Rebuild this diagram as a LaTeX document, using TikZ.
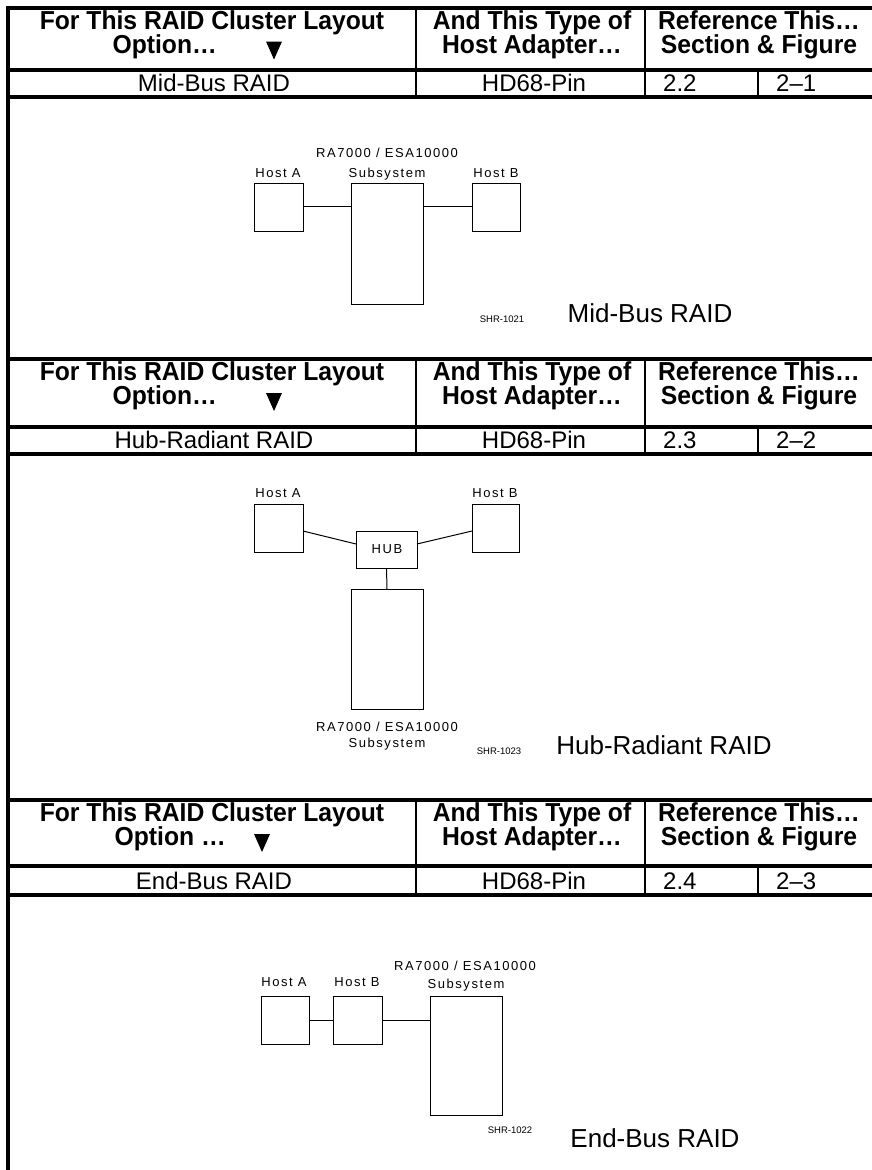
\documentclass[tikz,border=0pt]{standalone}
\usepackage{fontspec}
\setmainfont{Liberation Sans}
\newfontfamily\diagfont[LetterSpace=12]{Liberation Sans}
\newfontfamily\hdrfont[FakeStretch=0.95]{Liberation Sans}
\usetikzlibrary{calc}
\newcommand\raidsect[8]{%
  \draw[thin rule] (416,#2) -- (416,#4);
  \draw[thin rule] (645,#2) -- (645,#4);
  \draw[thin rule] (758,#3) -- (758,#4);
  \draw[thick rule] (8,#2) -- (872,#2);
  \draw[thick rule] (8,#3) -- (872,#3);
  \draw[thick rule] (8,#4) -- (872,#4);
  \node[hdr] (#1h1) at (212,#2+21.5) {For This RAID Cluster Layout};
  \node[hdr] (#1h3) at (532,#2+21.5) {And This Type of};
  \node[hdr] (#1h4) at (532,#2+45.5) {Host Adapter…};
  \node[hdr] (#1h5) at (759,#2+21.5) {Reference This…};
  \node[hdr] (#1h6) at (759,#2+45.5) {Section \& Figure};
  \node[cell] (#1r1) at (214,#4-5.5) {#6};
  \node[cell] (#1r2) at (534,#4-5.5) {HD68-Pin};
  \node[cell,anchor=base west] (#1r3) at (663,#4-5.5) {#7};
  \node[cell,anchor=base west] (#1r4) at (776,#4-5.5) {#8};
}
% option line: prefix, y of section top, text right end, triangle centre x, text
\newcommand\optline[5]{%
  \node[hdr,anchor=base east] (#1h2) at (#3,#2+45.5) {#5};
  \fill (#4-8,#2+34) -- (#4+8,#2+34) -- (#4,#2+52) -- cycle;
}
\begin{document}
\begin{tikzpicture}[x=1pt,y=-1pt,
  thick rule/.style={line width=4pt},
  thin rule/.style={line width=1.5pt},
  hdr/.style={font=\fontsize{26}{26}\hdrfont\bfseries, inner sep=0pt, anchor=base},
  cell/.style={font=\fontsize{24}{24}\selectfont, inner sep=0pt, anchor=base},
  box/.style={draw, line width=1pt, inner sep=0pt, outer sep=0pt, anchor=north west},
  lbl/.style={font=\fontsize{13}{13}\diagfont, inner sep=0pt, anchor=base},
  shr/.style={font=\fontsize{9.5}{9.5}\selectfont, inner sep=0pt, anchor=base},
  caption/.style={font=\fontsize{26}{26}\selectfont, inner sep=0pt, anchor=base},
  link/.style={line width=1pt}]
\useasboundingbox (0,0) rectangle (872,1170);
\fill[white] (0,0) rectangle (872,1170);
\draw[thick rule] (8,5.5) -- (8,1170);

\raidsect{a}{7.5}{70}{97}{}{Mid-Bus RAID}{2.2}{2–1}
\optline{a}{7.5}{217}{274}{Option…}
\raidsect{b}{359}{427}{454}{}{Hub-Radiant RAID}{2.3}{2–2}
\optline{b}{359}{217}{274}{Option…}
\raidsect{c}{800}{866}{895}{}{End-Bus RAID}{2.4}{2–3}
\optline{c}{800}{226}{262}{Option …}

% Diagram 1: Mid-Bus
\node[box,minimum width=49pt,minimum height=48pt] (a1) at (254,183) {};
\node[box,minimum width=72pt,minimum height=121pt] (as) at (351,183) {};
\node[box,minimum width=48pt,minimum height=48pt] (a2) at (472,183) {};
\draw[link] ($(a1.east)+(0,-0.5)$) -- ($(a1.east)+(48,-0.5)$) coordinate (aj1);
\draw[link] ($(a2.west)+(0,-0.5)$) -- ($(a2.west)+(-49,-0.5)$) coordinate (aj2);
\node[lbl] (a1l) at (278,177.5) {Host A};
\node[lbl] (a2l) at (496,177.5) {Host B};
\node[lbl] (asl1) at (387,157.5) {RA7000 / ESA10000};
\node[lbl] (asl2) at (387,177.5) {Subsystem};
\node[shr] (ashr) at (502,322) {SHR-1021};
\node[caption] (acap) at (650,322) {Mid-Bus RAID};

% Diagram 2: Hub-Radiant
\node[box,minimum width=49pt,minimum height=48pt] (b1) at (254,504) {};
\node[box,minimum width=47pt,minimum height=48pt] (b2) at (472,504) {};
\node[box,minimum width=61pt,minimum height=37pt] (bh) at (356,531) {};
\node[font=\fontsize{13}{13}\diagfont, inner sep=0pt] (bht) at (387,549.5) {HUB};
\node[box,minimum width=72pt,minimum height=120pt] (bs) at (351,589) {};
\draw[link] ($(b1.east)+(0,3)$) -- ($(bh.west)+(0,-5.5)$);
\draw[link] ($(b2.west)+(0,3)$) -- ($(bh.east)+(0,-5.5)$);
\draw[link] (bh.south) -- (bs.north);
\node[lbl] (b1l) at (278,497.5) {Host A};
\node[lbl] (b2l) at (495,497.5) {Host B};
\node[lbl] (bsl1) at (387,731.5) {RA7000 / ESA10000};
\node[lbl] (bsl2) at (387,747.5) {Subsystem};
\node[shr] (bshr) at (499,754) {SHR-1023};
\node[caption] (bcap) at (664,754) {Hub-Radiant RAID};

% Diagram 3: End-Bus
\node[box,minimum width=48pt,minimum height=48pt] (c1) at (261,996) {};
\node[box,minimum width=49pt,minimum height=48pt] (c2) at (333,996) {};
\node[box,minimum width=72pt,minimum height=119pt] (cs) at (430,996) {};
\draw[link] (c1.east) -- (c2.west);
\draw[link] (c2.east) -- (c2.east -| cs.west);
\node[lbl] (c1l) at (284,986.5) {Host A};
\node[lbl] (c2l) at (357,986.5) {Host B};
\node[lbl] (csl1) at (465,970.5) {RA7000 / ESA10000};
\node[lbl] (csl2) at (466,988.5) {Subsystem};
\node[shr] (cshr) at (510,1133) {SHR-1022};
\node[caption] (ccap) at (655,1147) {End-Bus RAID};
\end{tikzpicture}
\end{document}
